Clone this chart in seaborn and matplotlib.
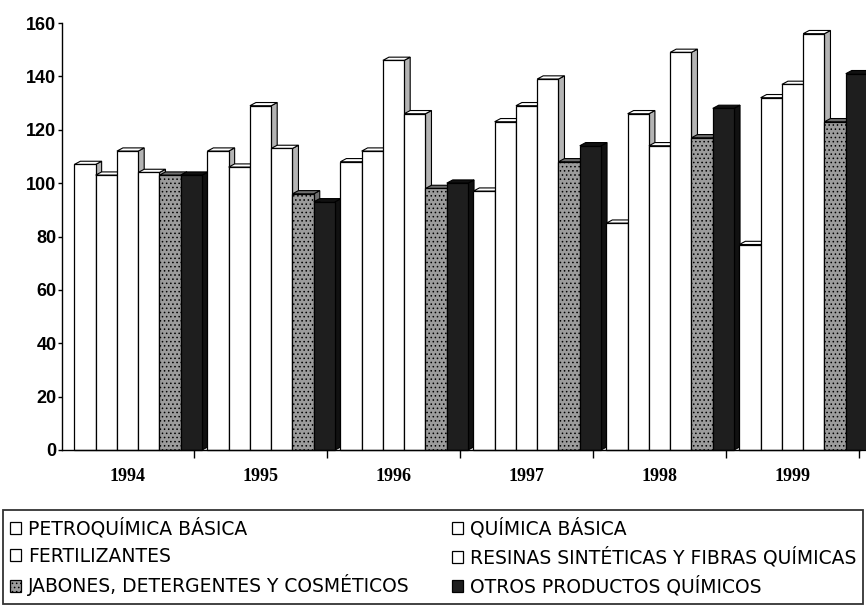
import numpy as np
import pandas as pd
import matplotlib
matplotlib.use("Agg")
import matplotlib.pyplot as plt
from matplotlib import font_manager
from matplotlib.patches import Patch, Polygon
from matplotlib.transforms import ScaledTranslation
import seaborn as sns

# ---------------- data ----------------
years = ["1994", "1995", "1996", "1997", "1998", "1999"]
categories = [
    "PETROQUÍMICA BÁSICA",
    "QUÍMICA BÁSICA",
    "FERTILIZANTES",
    "RESINAS SINTÉTICAS Y FIBRAS QUÍMICAS",
    "JABONES, DETERGENTES Y COSMÉTICOS",
    "OTROS PRODUCTOS QUÍMICOS",
]
petroquimica = [107, 112, 108, 97, 85, 77]
quimica = [103, 106, 112, 123, 126, 132]
fertilizantes = [112, 129, 146, 129, 114, 137]
resinas = [104, 113, 126, 139, 149, 156]
jabones = [103, 96, 98, 108, 117, 123]
otros = [103, 93, 100, 114, 128, 141]
y_ticks = [0, 20, 40, 60, 80, 100, 120, 140, 160]

series = [petroquimica, quimica, fertilizantes, resinas, jabones, otros]
df = pd.DataFrame(
    [(y, c, s[i]) for c, s in zip(categories, series) for i, y in enumerate(years)],
    columns=["year", "cat", "value"],
)

# ---------------- style ----------------
sns.set_theme(style="white")
avail = {f.name for f in font_manager.fontManager.ttflist}
narrow = "Liberation Sans Narrow" if "Liberation Sans Narrow" in avail else "DejaVu Sans"
plt.rcParams["font.family"] = ["Liberation Sans", "DejaVu Sans"]
plt.rcParams["text.color"] = "black"
plt.rcParams["xtick.color"] = "black"
plt.rcParams["ytick.color"] = "black"
plt.rcParams["hatch.linewidth"] = 0.6

face = ["#ffffff", "#ffffff", "#ffffff", "#ffffff", "#9c9c9c", "#1e1e1e"]
side = ["#b4b4b4", "#b4b4b4", "#b4b4b4", "#b4b4b4", "#6e6e6e", "#111111"]
palette = dict(zip(categories, face))

fig = plt.figure(figsize=(8.66, 6.11), dpi=100)
ax = fig.add_axes([62 / 866, 1 - 450 / 611, 798 / 866, 427 / 611])

sns.barplot(data=df, x="year", y="value", hue="cat", hue_order=categories,
            palette=palette, saturation=1, width=0.96, edgecolor="black",
            linewidth=0.9, legend=False, ax=ax)

ax.set_ylim(0, 160)
ax.set_xlim(-0.573, len(years) - 0.573)

# pseudo 3-D faces derived from the bars that seaborn drew
bars = sorted([p for p in ax.patches if p.get_height() > 0], key=lambda p: p.get_x())
dx, dy = 0.045, 1.2
for k, p in enumerate(bars):
    x0, w, h = p.get_x(), p.get_width(), p.get_height()
    ci = [i for i, c in enumerate(face) if matplotlib.colors.to_hex(p.get_facecolor()) == c][0]
    z = 2 + k * 0.01
    p.set_zorder(z + 0.003)
    p.set_clip_on(False)
    if ci == 4:
        p.set_hatch("....")
    s = Polygon([(x0 + w, 0), (x0 + w + dx, dy), (x0 + w + dx, h + dy), (x0 + w, h)],
                closed=True, facecolor=side[ci], edgecolor="black", lw=0.8, zorder=z,
                clip_on=False)
    t = Polygon([(x0, h), (x0 + dx, h + dy), (x0 + w + dx, h + dy), (x0 + w, h)],
                closed=True, facecolor="white" if ci < 4 else side[ci],
                edgecolor="black", lw=0.8, zorder=z + 0.001, clip_on=False)
    ax.add_patch(s)
    ax.add_patch(t)

# axes
for sp in ["top", "right"]:
    ax.spines[sp].set_visible(False)
for sp in ["left", "bottom"]:
    ax.spines[sp].set_color("black")
    ax.spines[sp].set_linewidth(1.0)
ax.set_yticks(y_ticks)
ax.set_yticklabels([str(v) for v in y_ticks], fontsize=13, fontweight="bold",
                   family=["Liberation Sans", "DejaVu Sans"])
ax.tick_params(axis="y", left=True, length=3, width=1, pad=1, color="black")
ax.set_xticks(range(len(years)))
ax.set_xticklabels(years, fontsize=13, fontweight="bold",
                   family=["Liberation Serif", "DejaVu Serif"])
ax.tick_params(axis="x", length=0, pad=13)
for lab in ax.get_xticklabels():
    lab.set_transform(lab.get_transform() + ScaledTranslation(-11 / 100, 0, fig.dpi_scale_trans))
ax.set_xticks(np.arange(len(years)) + 0.5 - 0.08, minor=True)
ax.tick_params(axis="x", which="minor", bottom=True, length=6, width=1, direction="out", color="black")
ax.set_xlabel("")
ax.set_ylabel("")

# legend
handles = []
for ci, c in enumerate(categories):
    handles.append(Patch(facecolor=face[ci], edgecolor="black", lw=0.9,
                         hatch="...." if ci == 4 else None, label=c))
order = [0, 2, 4, 1, 3, 5]
leg = fig.legend([handles[i] for i in order], [categories[i] for i in order],
                 loc="lower left", bbox_to_anchor=(0.003, 0.012, 0.994, 0.168),
                 mode="expand", ncol=2, frameon=True, fancybox=False,
                 prop={"family": [narrow, "DejaVu Sans"], "size": 13.5},
                 handlelength=0.6, handleheight=0.6, handletextpad=0.35,
                 labelspacing=0.45, borderpad=0.4, borderaxespad=0)
leg.get_frame().set_edgecolor("black")
leg.get_frame().set_linewidth(1.3)
for t in leg.get_texts():
    t.set_color("black")

fig.savefig("out.png", dpi=100)
